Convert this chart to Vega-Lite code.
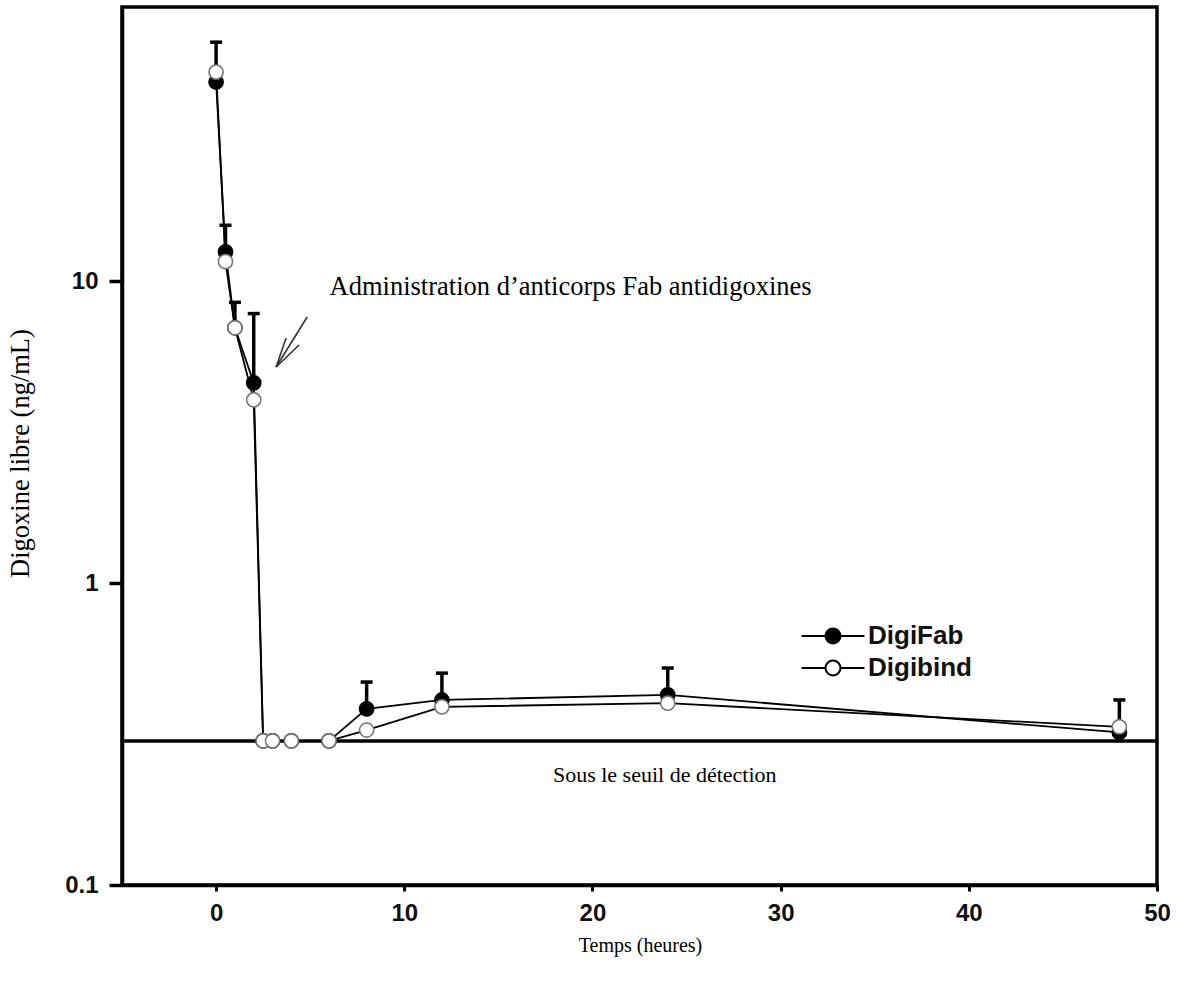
{
  "$schema": "https://vega.github.io/schema/vega-lite/v6.json",
  "width": 1035,
  "height": 878,
  "autosize": {"type": "none"},
  "padding": {"left": 122, "top": 7, "right": 21, "bottom": 97},
  "background": "white",
  "config": {
    "view": {"stroke": "black", "strokeWidth": 3.5},
    "axis": {
      "grid": false,
      "domainColor": "black",
      "domainWidth": 3.5,
      "tickColor": "black",
      "labelColor": "#111",
      "labelFont": "Liberation Sans",
      "labelFontWeight": "bold",
      "labelFontSize": 24,
      "labelFlush": false,
      "labelOverlap": false,
      "titleFont": "Liberation Serif",
      "titleFontWeight": "normal",
      "titleColor": "black"
    },
    "legend": {
      "orient": "none",
      "legendX": 698,
      "legendY": 616,
      "padding": 0,
      "title": null,
      "labelFont": "Liberation Sans",
      "labelFontWeight": "bold",
      "labelFontSize": 26,
      "labelColor": "#111",
      "labelOffset": 22,
      "rowPadding": 6,
      "symbolType": "M-4.2,0H-1M1,0H4.2M-1,0A1,1,0,1,1,1,0A1,1,0,1,1,-1,0Z",
      "symbolSize": 225,
      "symbolStrokeColor": "black",
      "symbolStrokeWidth": 2
    }
  },
  "datasets": {
    "main": [
      {"t": 0, "v": 45.6, "upper": 61.8, "series": "DigiFab"},
      {"t": 0.5, "v": 12.5, "upper": 15.3, "series": "DigiFab"},
      {"t": 1, "v": 7.0, "upper": 8.5, "series": "DigiFab"},
      {"t": 2, "v": 4.6, "upper": 7.8, "series": "DigiFab"},
      {"t": 2.5, "v": 0.3, "upper": null, "series": "DigiFab"},
      {"t": 3, "v": 0.3, "upper": null, "series": "DigiFab"},
      {"t": 4, "v": 0.3, "upper": null, "series": "DigiFab"},
      {"t": 6, "v": 0.3, "upper": null, "series": "DigiFab"},
      {"t": 8, "v": 0.383, "upper": 0.47, "series": "DigiFab"},
      {"t": 12, "v": 0.41, "upper": 0.503, "series": "DigiFab"},
      {"t": 24, "v": 0.426, "upper": 0.523, "series": "DigiFab"},
      {"t": 48, "v": 0.32, "upper": 0.41, "series": "DigiFab"},
      {"t": 0, "v": 49.2, "upper": null, "series": "Digibind"},
      {"t": 0.5, "v": 11.6, "upper": null, "series": "Digibind"},
      {"t": 1, "v": 7.0, "upper": null, "series": "Digibind"},
      {"t": 2, "v": 4.04, "upper": null, "series": "Digibind"},
      {"t": 2.5, "v": 0.3, "upper": null, "series": "Digibind"},
      {"t": 3, "v": 0.3, "upper": null, "series": "Digibind"},
      {"t": 4, "v": 0.3, "upper": null, "series": "Digibind"},
      {"t": 6, "v": 0.3, "upper": null, "series": "Digibind"},
      {"t": 8, "v": 0.326, "upper": null, "series": "Digibind"},
      {"t": 12, "v": 0.389, "upper": null, "series": "Digibind"},
      {"t": 24, "v": 0.4, "upper": null, "series": "Digibind"},
      {"t": 48, "v": 0.334, "upper": null, "series": "Digibind"}
    ],
    "arrow": [
      {"x": 4.84, "y": 7.6, "x2": 3.19, "y2": 5.19},
      {"x": 3.72, "y": 6.48, "x2": 3.19, "y2": 5.19},
      {"x": 4.41, "y": 6.14, "x2": 3.19, "y2": 5.19}
    ],
    "noteLeft": [
      {"x": 6.03, "y": 9.55, "label": "Administration d’anticorps Fab antidigoxines"}
    ],
    "noteCenter": [
      {"x": 23.84, "y": 0.231, "label": "Sous le seuil de détection"}
    ]
  },
  "layer": [
    {
      "data": {"values": [{"thr": 0.3}]},
      "mark": {"type": "rule", "color": "black", "strokeWidth": 3.5},
      "encoding": {
        "y": {
          "field": "thr", "type": "quantitative",
          "scale": {"type": "log", "domain": [0.1, 80.8], "nice": false},
          "axis": {
            "values": [0.1, 1, 10],
            "format": "~g",
            "tickSize": 13,
            "tickWidth": 3.5,
            "labelPadding": 11,
            "title": "Digoxine libre (ng/mL)",
            "titleFontSize": 26.5,
            "titleAngle": 270,
            "titleAlign": "center",
            "titleBaseline": "middle",
            "titleX": -102,
            "titleY": 446
          }
        }
      }
    },
    {
      "data": {"name": "main"},
      "mark": {"type": "line", "color": "black", "strokeWidth": 1.8},
      "encoding": {
        "x": {
          "field": "t", "type": "quantitative",
          "scale": {"domain": [-5, 50], "nice": false, "zero": false},
          "axis": {
            "values": [0, 10, 20, 30, 40, 50],
            "tickSize": 6,
            "tickWidth": 3,
            "labelPadding": 10,
            "title": "Temps (heures)",
            "titleFontSize": 20,
            "titleBaseline": "middle",
            "titleX": 518,
            "titleY": 60
          }
        },
        "y": {"field": "v", "type": "quantitative", "scale": {"type": "log", "domain": [0.1, 80.8], "nice": false}},
        "detail": {"field": "series"}
      }
    },
    {
      "data": {"name": "main"},
      "transform": [{"filter": "isValid(datum.upper)"}],
      "mark": {"type": "rule", "color": "black", "strokeWidth": 3.5},
      "encoding": {
        "x": {"field": "t", "type": "quantitative", "scale": {"domain": [-5, 50], "nice": false, "zero": false}},
        "y": {"field": "v", "type": "quantitative", "scale": {"type": "log", "domain": [0.1, 80.8], "nice": false}},
        "y2": {"field": "upper"}
      }
    },
    {
      "data": {"name": "main"},
      "transform": [{"filter": "isValid(datum.upper)"}],
      "mark": {"type": "tick", "orient": "horizontal", "color": "black", "size": 12, "thickness": 3.5, "opacity": 1},
      "encoding": {
        "x": {"field": "t", "type": "quantitative", "scale": {"domain": [-5, 50], "nice": false, "zero": false}},
        "y": {"field": "upper", "type": "quantitative", "scale": {"type": "log", "domain": [0.1, 80.8], "nice": false}}
      }
    },
    {
      "data": {"name": "main"},
      "mark": {"type": "point", "filled": false, "size": 200, "strokeWidth": 1.6, "opacity": 1},
      "encoding": {
        "x": {"field": "t", "type": "quantitative", "scale": {"domain": [-5, 50], "nice": false, "zero": false}},
        "y": {"field": "v", "type": "quantitative", "scale": {"type": "log", "domain": [0.1, 80.8], "nice": false}},
        "fill": {
          "field": "series", "type": "nominal",
          "scale": {"domain": ["DigiFab", "Digibind"], "range": ["black", "white"]},
          "legend": {}
        },
        "stroke": {
          "condition": {"test": "datum.series === 'Digibind'", "value": "#777777"},
          "value": "black"
        }
      }
    },
    {
      "data": {"name": "arrow"},
      "mark": {"type": "rule", "color": "#333333", "strokeWidth": 1.6},
      "encoding": {
        "x": {"field": "x", "type": "quantitative", "scale": {"domain": [-5, 50], "nice": false, "zero": false}},
        "y": {"field": "y", "type": "quantitative", "scale": {"type": "log", "domain": [0.1, 80.8], "nice": false}},
        "x2": {"field": "x2"},
        "y2": {"field": "y2"}
      }
    },
    {
      "data": {"name": "noteLeft"},
      "mark": {"type": "text", "font": "Liberation Serif", "fontSize": 26.5, "color": "black", "baseline": "middle", "align": "left"},
      "encoding": {
        "x": {"field": "x", "type": "quantitative", "scale": {"domain": [-5, 50], "nice": false, "zero": false}},
        "y": {"field": "y", "type": "quantitative", "scale": {"type": "log", "domain": [0.1, 80.8], "nice": false}},
        "text": {"field": "label"}
      }
    },
    {
      "data": {"name": "noteCenter"},
      "mark": {"type": "text", "font": "Liberation Serif", "fontSize": 22, "color": "black", "baseline": "middle", "align": "center"},
      "encoding": {
        "x": {"field": "x", "type": "quantitative", "scale": {"domain": [-5, 50], "nice": false, "zero": false}},
        "y": {"field": "y", "type": "quantitative", "scale": {"type": "log", "domain": [0.1, 80.8], "nice": false}},
        "text": {"field": "label"}
      }
    }
  ]
}
